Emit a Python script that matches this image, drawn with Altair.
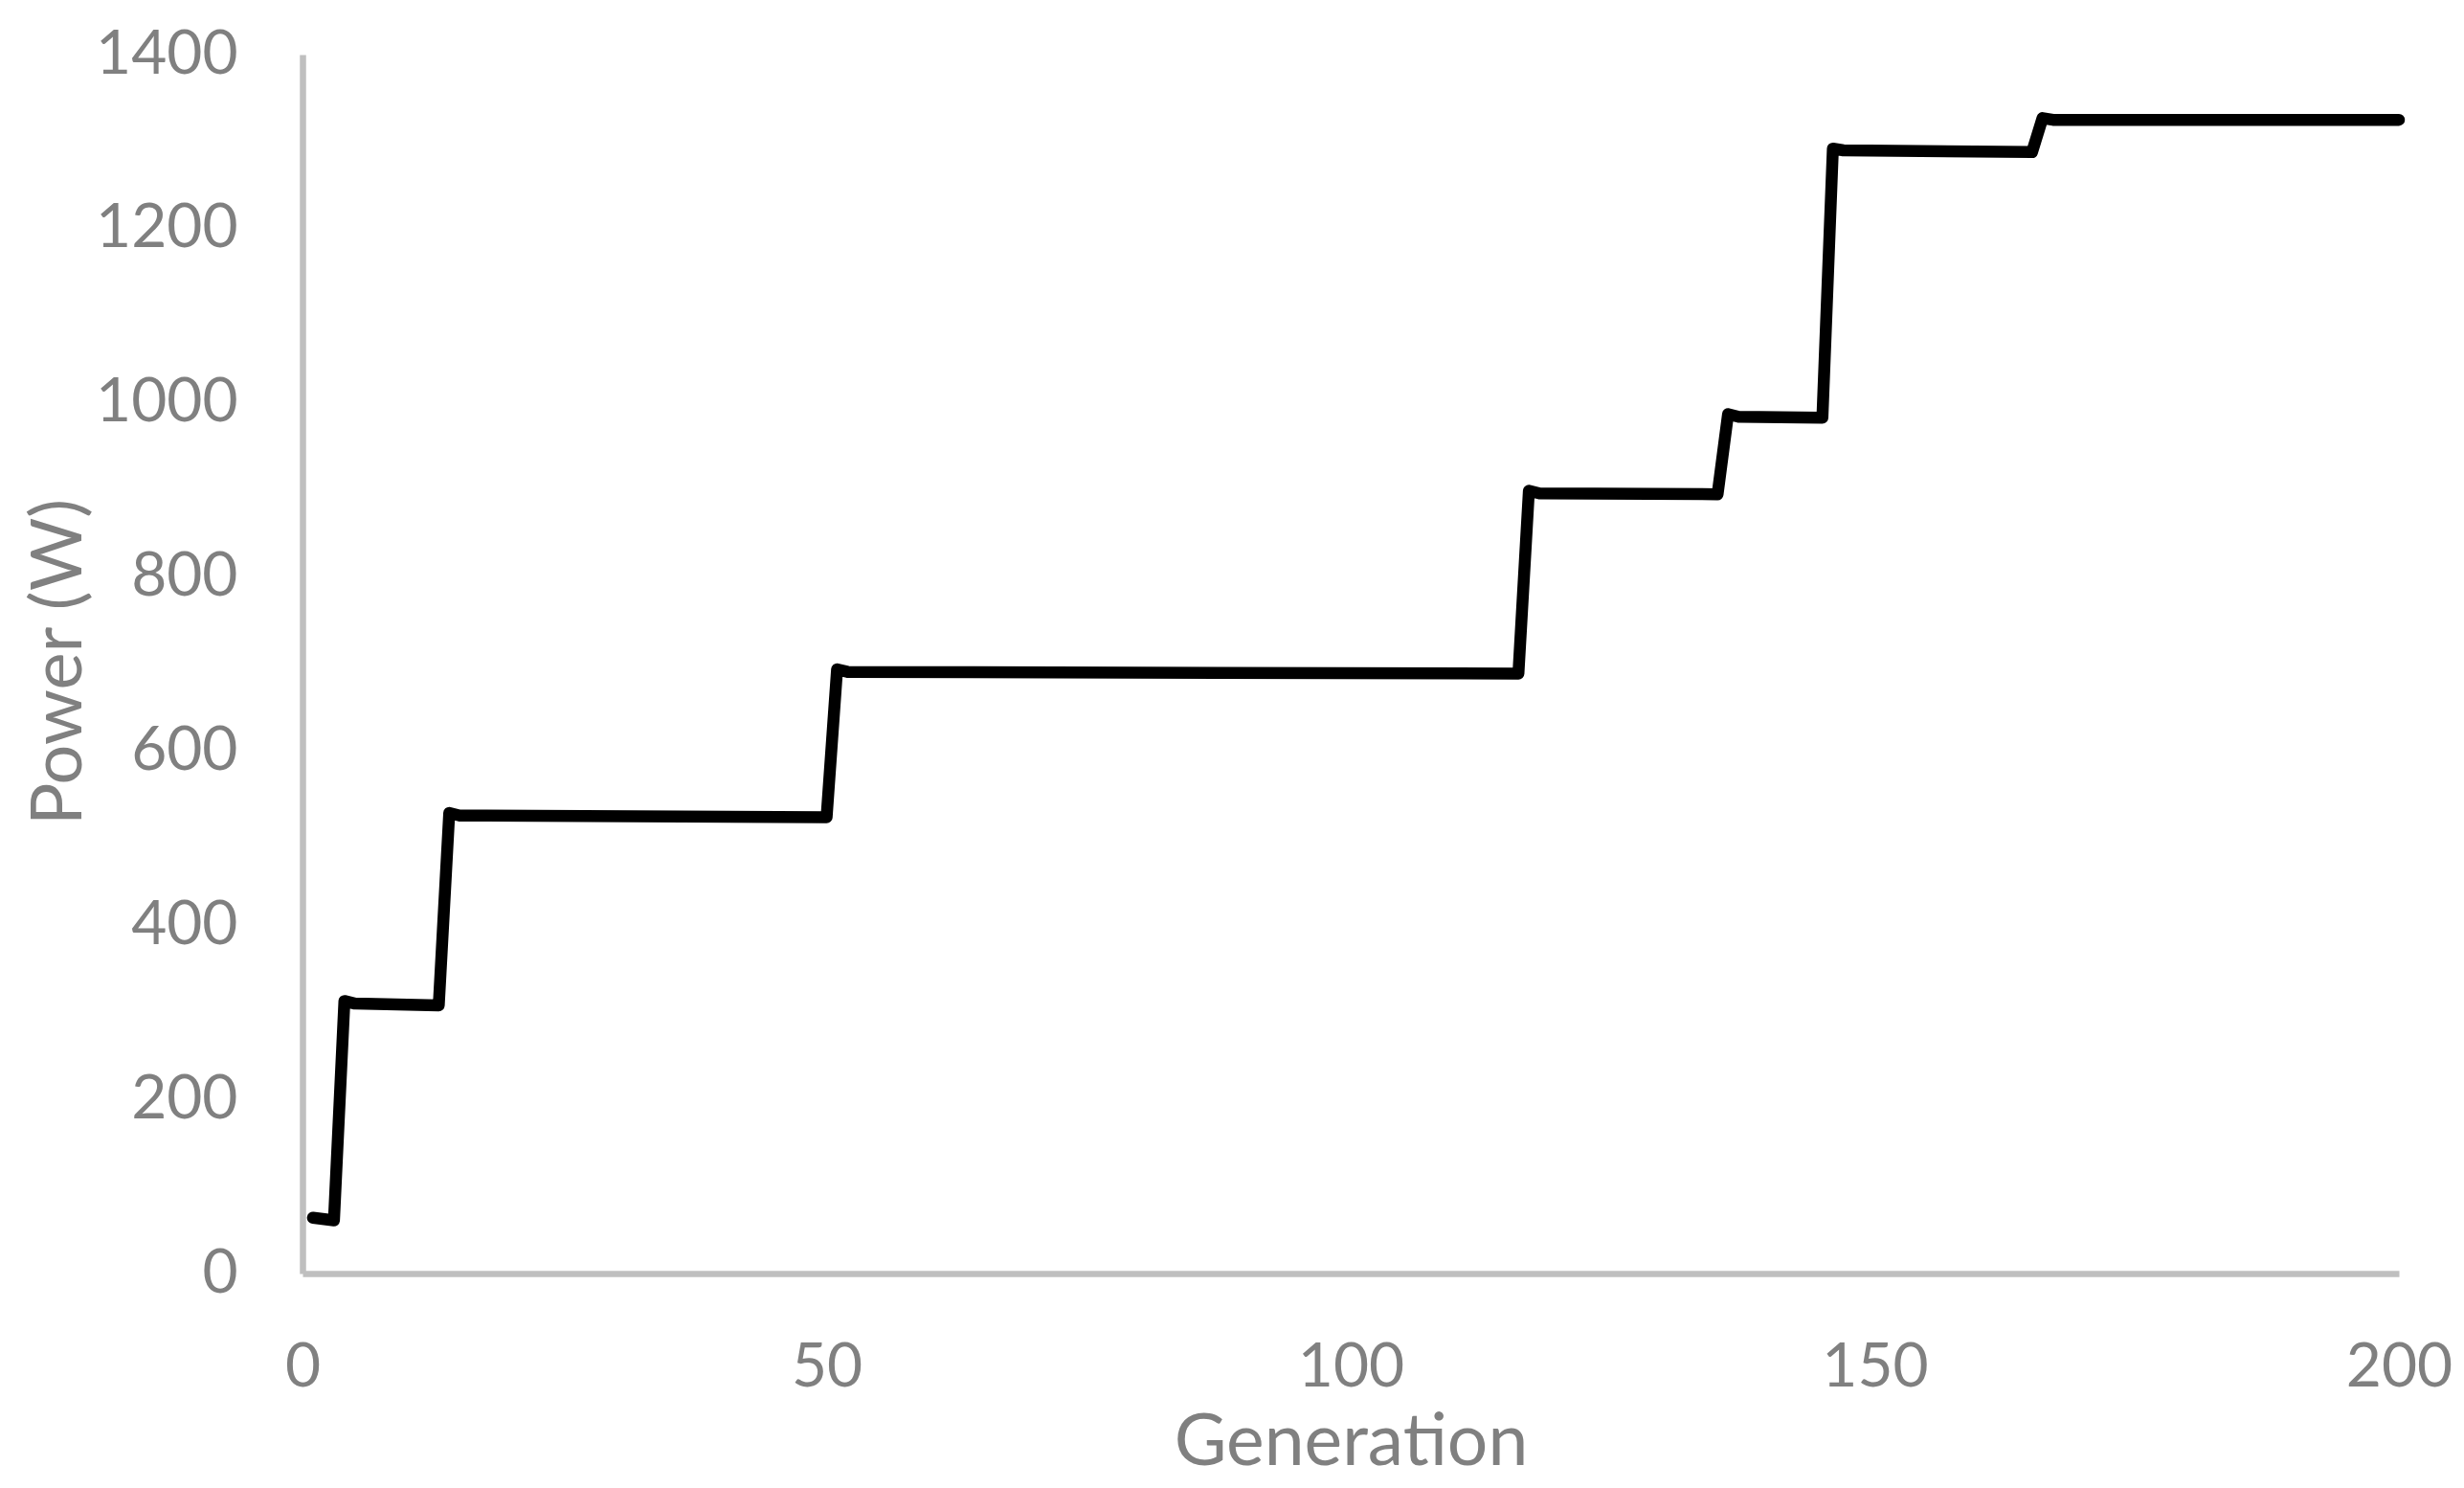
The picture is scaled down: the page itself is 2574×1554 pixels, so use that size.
import altair as alt
import pandas as pd

# Step points (generation, best power in W)
generation = [1, 3, 4, 5, 13, 14, 15, 50, 51, 52, 116, 117, 118, 135, 136, 137, 145, 146, 147, 165, 166, 167, 200]
power_w = [64, 61, 313, 310, 308, 529, 526, 524, 694, 691, 689, 899, 896, 895, 987, 984, 983, 1292, 1290, 1288, 1327, 1325, 1325]

x_ticks = [0, 50, 100, 150, 200]
y_ticks = [0, 200, 400, 600, 800, 1000, 1200, 1400]

df = pd.DataFrame({"Generation": generation, "Power": power_w})

FONT = "Lato"
GRAY = "#808080"
AXIS_GRAY = "#bfbfbf"

chart = (
    alt.Chart(df)
    .mark_line(color="black", strokeWidth=12.5, strokeJoin="round", strokeCap="round")
    .encode(
        x=alt.X(
            "Generation:Q",
            scale=alt.Scale(domain=[0, 200], nice=False, zero=False),
            axis=alt.Axis(
                title="Generation",
                values=x_ticks,
                format="d",
                grid=False,
                ticks=False,
                tickSize=0,
                domainColor=AXIS_GRAY,
                domainWidth=6.5,
                labelFont=FONT,
                labelFontSize=64,
                labelColor=GRAY,
                labelPadding=66,
                labelFlush=False,
                labelOverlap=False,
                titleFont=FONT,
                titleFontSize=75,
                titleFontWeight="normal",
                titleColor=GRAY,
                titleBaseline="alphabetic",
                titleY=199,
            ),
        ),
        y=alt.Y(
            "Power:Q",
            scale=alt.Scale(domain=[0, 1400], nice=False),
            axis=alt.Axis(
                title="Power (W)",
                values=y_ticks,
                format="d",
                grid=False,
                ticks=False,
                tickSize=0,
                domainColor=AXIS_GRAY,
                domainWidth=6.5,
                labelFont=FONT,
                labelFontSize=64,
                labelColor=GRAY,
                labelPadding=68,
                labelOverlap=False,
                titleFont=FONT,
                titleFontSize=74,
                titleFontWeight="normal",
                titleColor=GRAY,
                titleBaseline="alphabetic",
                titleAngle=270,
                titleX=-232,
                titleY=634,
            ),
        ),
    )
    .properties(
        width=2190,
        height=1273,
        padding={"left": 308, "top": 49, "right": 60, "bottom": 216},
        autosize=alt.AutoSizeParams(type="none"),
    )
    .configure_view(strokeWidth=0)
)

chart.save("out.html", embed_options={"renderer": "svg", "actions": False})
